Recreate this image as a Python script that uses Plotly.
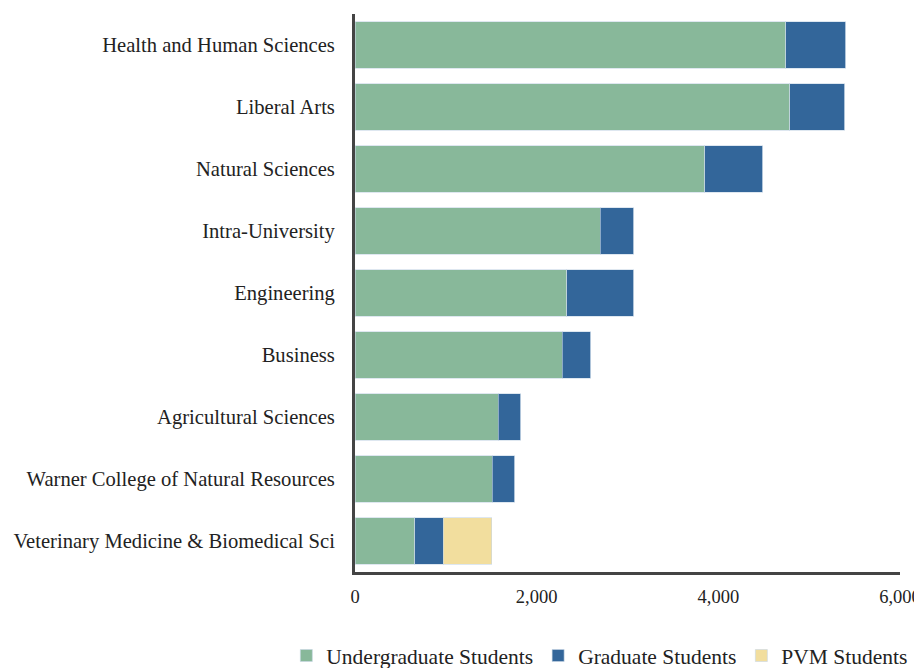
import plotly.graph_objects as go

categories = [
    "Health and Human Sciences",
    "Liberal Arts",
    "Natural Sciences",
    "Intra-University",
    "Engineering",
    "Business",
    "Agricultural Sciences",
    "Warner College of Natural Resources",
    "Veterinary Medicine & Biomedical Sci",
]
undergrad = [4741, 4787, 3851, 2699, 2329, 2280, 1579, 1513, 660]
graduate = [664, 605, 638, 368, 738, 313, 248, 247, 309]
pvm = [0, 0, 0, 0, 0, 0, 0, 0, 536]

series = [
    ("Undergraduate Students", undergrad, "#88B89A"),
    ("Graduate Students", graduate, "#33669A"),
    ("PVM Students", pvm, "#F2DE9E"),
]

font_family = "Liberation Serif"

fig = go.Figure()
for name, vals, col in series:
    fig.add_trace(go.Bar(
        y=categories, x=vals, name=name, orientation="h",
        marker=dict(color=col, line=dict(color="rgba(200,215,230,0.6)", width=1)),
    ))

fig.update_layout(
    barmode="stack",
    bargap=0.25,
    width=914, height=660,
    margin=dict(l=347, r=22, t=6, b=96, autoexpand=False),
    paper_bgcolor="white", plot_bgcolor="white",
    font=dict(family=font_family, size=20, color="#222"),
    showlegend=True,
    legend=dict(orientation="h", x=-0.126, xanchor="left", xref="paper",
                y=-0.113, yanchor="top", yref="paper",
                font=dict(size=21.5, family=font_family), traceorder="normal",
                itemwidth=30),
    xaxis=dict(range=[0, 6000], tickvals=[0, 2000, 4000, 6000], tickformat=",",
               showgrid=False, zeroline=False, showline=True, linecolor="#444",
               linewidth=3, ticks="", tickfont=dict(size=18.5, family=font_family),
               ticklabelstandoff=6, automargin=False),
    yaxis=dict(autorange="reversed", showgrid=False, zeroline=False, showline=True,
               linecolor="#444", linewidth=3, ticks="", ticklabelstandoff=13,
               tickfont=dict(size=20.6, family=font_family), automargin=False),
)

fig.write_html("out.html")
